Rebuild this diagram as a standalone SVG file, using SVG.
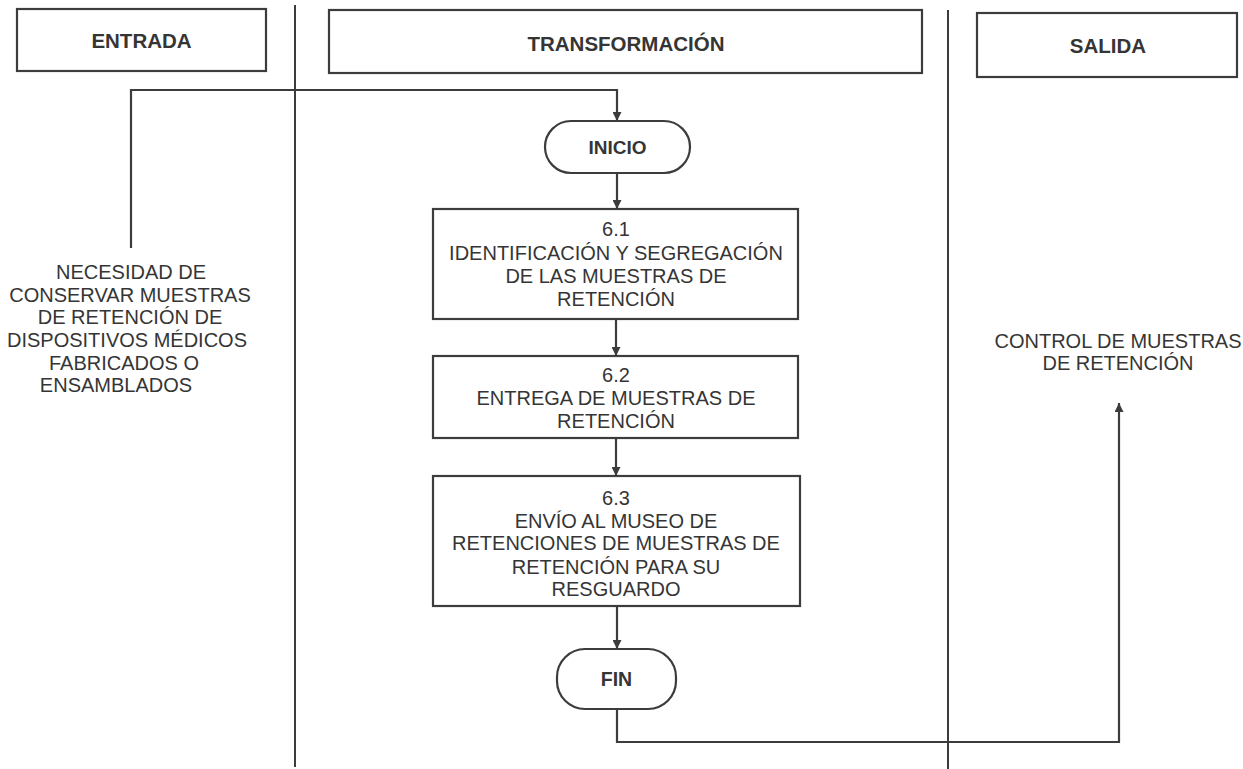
<svg xmlns="http://www.w3.org/2000/svg" width="1243" height="769" viewBox="0 0 1243 769">
<style>
.box{fill:#fff;stroke:#3c3c3c;stroke-width:2.2}
.lane{stroke:#3c3c3c;stroke-width:2;fill:none}
.con{stroke:#3c3c3c;stroke-width:2.2;fill:none}
.t{font-family:"Liberation Sans",Arial,sans-serif;font-size:20px;fill:#353535;text-anchor:middle}
.h{font-family:"Liberation Sans",Arial,sans-serif;font-size:20.5px;font-weight:bold;fill:#353535;text-anchor:middle}
</style>
<defs>
<marker id="arr" viewBox="0 0 10 10" refX="10" refY="5" markerWidth="9" markerHeight="9" markerUnits="userSpaceOnUse" orient="auto">
<path d="M0,0 L10,5 L0,10 Z" fill="#3c3c3c"/>
</marker>
</defs>
<rect width="1243" height="769" fill="#fff"/>
<g id="lanes">
<line class="lane" x1="295" y1="5" x2="295" y2="767"/>
<line class="lane" x1="948" y1="10" x2="948" y2="769"/>
</g>
<g id="hdr-entrada"><rect class="box" x="17" y="9" width="249" height="62"/><text class="h" x="141.5" y="48">ENTRADA</text></g>
<g id="hdr-transformacion"><rect class="box" x="329" y="10" width="593" height="63"/><text class="h" x="626" y="51">TRANSFORMACIÓN</text></g>
<g id="hdr-salida"><rect class="box" x="977" y="13" width="260" height="64"/><text class="h" x="1108" y="53">SALIDA</text></g>
<g id="connectors">
<path class="con" d="M131,248 V90 H617 V121" marker-end="url(#arr)"/>
<path class="con" d="M617,173 V209" marker-end="url(#arr)"/>
<path class="con" d="M616,319 V356" marker-end="url(#arr)"/>
<path class="con" d="M616,438 V476" marker-end="url(#arr)"/>
<path class="con" d="M617,606 V649" marker-end="url(#arr)"/>
<path class="con" d="M617,709 V742 H1119 V403" marker-end="url(#arr)"/>
</g>
<g id="entrada">
<text class="t" x="131" y="279">NECESIDAD DE</text>
<text class="t" x="130" y="302">CONSERVAR MUESTRAS</text>
<text class="t" x="130" y="324">DE RETENCIÓN DE</text>
<text class="t" x="127" y="347">DISPOSITIVOS MÉDICOS</text>
<text class="t" x="124" y="370">FABRICADOS O</text>
<text class="t" x="116" y="392">ENSAMBLADOS</text>
</g>
<g id="inicio"><rect class="box" x="545" y="121" width="145" height="52" rx="26"/><text class="h" style="font-size:19px" x="617.5" y="154">INICIO</text></g>
<g id="n61"><rect class="box" x="433" y="209" width="365" height="110"/>
<text class="t" x="616" y="236">6.1</text>
<text class="t" x="616" y="260">IDENTIFICACIÓN Y SEGREGACIÓN</text>
<text class="t" x="616" y="283">DE LAS MUESTRAS DE</text>
<text class="t" x="616" y="306">RETENCIÓN</text>
</g>
<g id="n62"><rect class="box" x="433" y="356" width="365" height="82"/>
<text class="t" x="616" y="382">6.2</text>
<text class="t" x="616" y="405">ENTREGA DE MUESTRAS DE</text>
<text class="t" x="616" y="428">RETENCIÓN</text>
</g>
<g id="n63"><rect class="box" x="433" y="476" width="367" height="130"/>
<text class="t" x="616" y="505">6.3</text>
<text class="t" x="616" y="528">ENVÍO AL MUSEO DE</text>
<text class="t" x="616" y="550">RETENCIONES DE MUESTRAS DE</text>
<text class="t" x="616" y="574">RETENCIÓN PARA SU</text>
<text class="t" x="616" y="596">RESGUARDO</text>
</g>
<g id="fin"><rect class="box" x="557" y="649" width="119" height="60" rx="28"/><text class="h" style="font-size:19.5px" x="616.5" y="686">FIN</text></g>
<g id="salida">
<text class="t" x="1118" y="348">CONTROL DE MUESTRAS</text>
<text class="t" x="1118" y="370">DE RETENCIÓN</text>
</g>
</svg>
